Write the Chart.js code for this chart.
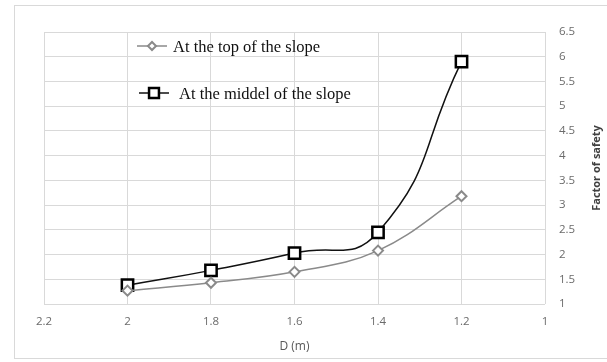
<!DOCTYPE html>
<html>
<head>
<meta charset="utf-8">
<script src="https://cdn.jsdelivr.net/npm/chart.js@4"></script>
<style>
  html, body { margin: 0; padding: 0; background: #fff; }
  #wrap { position: relative; width: 607px; height: 362px; }
  #frame { position: absolute; left: 14px; top: 5px; width: 600px; height: 352px; border: 1px solid #d9d9d9; pointer-events: none; }
  canvas { position: absolute; left: 0; top: 0; }
</style>
</head>
<body>
<div id="wrap">
  <div id="frame"></div>
  <canvas id="grafico" width="607" height="362"></canvas>
</div>
<script>
const depths = [2, 1.8, 1.6, 1.4, 1.2];
const topSlope = [1.27, 1.43, 1.65, 2.08, 3.18];
const middleSlope = [1.38, 1.68, 2.03, 2.45, 5.9];
const seriesNames = ['At the top of the slope', 'At the middel of the slope'];
const xTitle = 'D (m)';
const yTitle = 'Factor of safety';

function pares(ys) {
    return depths.map(function (d, i) { return { x: d, y: ys[i] }; });
}

function rotulo(v) {
    return String(Math.round(v * 10) / 10);
}

// legenda dentro da área do gráfico + título do eixo y lido de baixo para cima
const extras = {
    id: 'extras',
    afterDraw: function (chart) {
        const ctx = chart.ctx;
        const area = chart.chartArea;
        const linhas = [
            { ds: chart.data.datasets[0], x: area.left + 93, y: area.top + 14, tx: area.left + 129 },
            { ds: chart.data.datasets[1], x: area.left + 95, y: area.top + 61, tx: area.left + 135 }
        ];
        ctx.save();
        linhas.forEach(function (l) {
            ctx.strokeStyle = l.ds.borderColor;
            ctx.lineWidth = l.ds.borderWidth;
            ctx.beginPath();
            ctx.moveTo(l.x, l.y);
            ctx.lineTo(l.x + 30, l.y);
            ctx.stroke();
            ctx.fillStyle = '#ffffff';
            ctx.strokeStyle = l.ds.pointBorderColor;
            ctx.lineWidth = l.ds.pointBorderWidth;
            Chart.helpers.drawPoint(ctx, {
                pointStyle: l.ds.pointStyle,
                radius: l.ds.legendRadius,
                borderWidth: l.ds.pointBorderWidth
            }, l.x + 15, l.y);
            ctx.fillStyle = '#111';
            ctx.font = '16.5px "Liberation Serif"';
            ctx.textBaseline = 'middle';
            ctx.textAlign = 'left';
            ctx.fillText(l.ds.label, l.tx, l.y + 2);
        });

        ctx.translate(597, (area.top + area.bottom) / 2);
        ctx.rotate(-Math.PI / 2);
        ctx.fillStyle = '#404040';
        ctx.font = 'bold 11px "Open Sans"';
        ctx.textAlign = 'center';
        ctx.textBaseline = 'middle';
        ctx.fillText(yTitle, 0, 0);
        ctx.restore();
    }
};

const ctx = document.getElementById('grafico');

new Chart(ctx, {
    type: 'line',
    data: {
        datasets: [
            {
                label: seriesNames[0],
                data: pares(topSlope),
                borderColor: '#8a8a8a',
                backgroundColor: '#ffffff',
                borderWidth: 1.5,
                pointStyle: 'rectRot',
                pointRadius: 5,
                legendRadius: 4,
                pointBorderWidth: 2,
                pointBorderColor: '#8a8a8a',
                pointBackgroundColor: '#ffffff',
                tension: 0.4
            },
            {
                label: seriesNames[1],
                data: pares(middleSlope),
                borderColor: '#111111',
                backgroundColor: '#ffffff',
                borderWidth: 1.5,
                pointStyle: 'rect',
                pointRadius: 8,
                legendRadius: 7,
                pointBorderWidth: 2.5,
                pointBorderColor: '#000000',
                pointBackgroundColor: '#ffffff',
                tension: 0.5
            }
        ]
    },
    options: {
        responsive: false,
        animation: false,
        layout: {
            padding: { left: 44, top: 32, right: 0, bottom: 4 }
        },
        plugins: {
            legend: { display: false },
            tooltip: { enabled: false }
        },
        scales: {
            x: {
                type: 'linear',
                reverse: true,
                min: 1,
                max: 2.2,
                border: { display: false },
                grid: { color: '#d9d9d9', drawTicks: false },
                ticks: {
                    stepSize: 0.2,
                    padding: 11,
                    color: '#6b6b6b',
                    font: { family: '"Open Sans"', size: 11.5 },
                    callback: rotulo
                },
                title: {
                    display: true,
                    text: xTitle,
                    color: '#595959',
                    font: { family: '"Open Sans"', size: 12 },
                    padding: { top: 4, bottom: 4 }
                },
                afterFit: function (scale) { scale.height = 54; }
            },
            y: {
                position: 'right',
                min: 1,
                max: 6.5,
                border: { display: false },
                grid: { color: '#d9d9d9', drawTicks: false },
                ticks: {
                    stepSize: 0.5,
                    padding: 14,
                    color: '#6b6b6b',
                    font: { family: '"Open Sans"', size: 11.5 },
                    callback: rotulo
                },
                afterFit: function (scale) { scale.width = 62; }
            }
        }
    },
    plugins: [extras]
});
</script>
</body>
</html>
